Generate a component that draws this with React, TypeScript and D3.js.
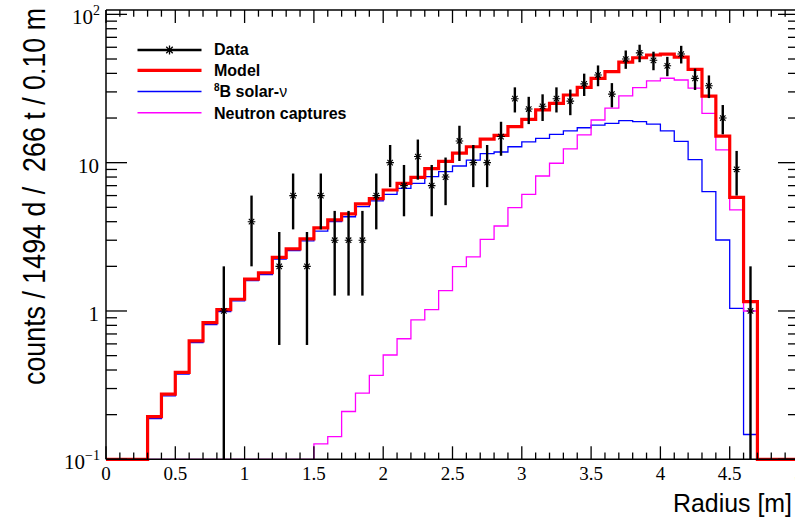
import React from 'react';
import * as d3 from 'd3';

// ---------- data ----------
// 50 bins of 0.1 m from 0 to 5 m (low edges)
const binLowEdges: number[] = d3.range(50).map((i) => Math.round(i) / 10);

const modelCounts: number[] = [
  0, 0, 0, 0.194, 0.275, 0.386, 0.628, 0.834, 1.02, 1.2,
  1.64, 1.81, 2.3, 2.62, 3.06, 3.63, 4.11, 4.51, 5.27, 5.72,
  6.54, 7.26, 7.97, 9.11, 10.2, 11.6, 12.8, 14.4, 15.3, 17.5,
  19.6, 22.7, 25.1, 28.6, 32.2, 37.0, 41.1, 47.6, 51.0, 53.2,
  54.0, 51.5, 42.5, 28.1, 15.1, 5.83, 1.155, 0, 0, 0,
];

const b8Counts: number[] = [
  0, 0, 0, 0.188, 0.268, 0.375, 0.612, 0.81, 0.99, 1.17,
  1.6, 1.76, 2.24, 2.55, 2.97, 3.46, 4.0, 4.32, 5.05, 5.52,
  6.12, 6.72, 7.26, 8.05, 8.69, 9.5, 10.4, 11.5, 11.8, 12.8,
  13.8, 14.6, 15.5, 16.4, 17.2, 17.9, 18.4, 19.2, 18.9, 18.2,
  16.4, 13.9, 10.5, 6.37, 3.01, 1.04, 0.147, 0, 0, 0,
];

const neutronCounts: number[] = [
  0, 0, 0, 0, 0, 0, 0, 0, 0, 0,
  0, 0, 0, 0, 0, 0.127, 0.142, 0.21, 0.279, 0.368,
  0.505, 0.65, 0.87, 1.02, 1.37, 1.99, 2.32, 3.04, 3.74, 4.97,
  6.12, 8.13, 9.91, 12.4, 15.4, 19.4, 23.3, 28.2, 32.1, 35.6,
  37.1, 36.1, 31.8, 21.5, 12.2, 4.8, 1.0, 0, 0, 0,
];

const dataRadius: number[] = [
  0.85, 1.05, 1.25, 1.35, 1.45, 1.55, 1.65, 1.75, 1.85, 1.95,
  2.05, 2.15, 2.25, 2.35, 2.45, 2.55, 2.65, 2.75, 2.85, 2.95,
  3.05, 3.15, 3.25, 3.35, 3.45, 3.55, 3.65, 3.75, 3.85, 3.95,
  4.05, 4.15, 4.25, 4.35, 4.45, 4.55, 4.65,
];
const dataCounts: number[] = [
  1, 4, 2, 6, 2, 6, 3, 3, 3, 6,
  10, 7, 11, 7, 8, 14, 10, 10, 15, 27,
  23, 24, 27, 26, 34, 39, 29, 50, 55, 49,
  45, 54, 37, 33, 20, 9, 1,
];
const dataErrors: number[] = [
  1, 2, 1.41, 2.45, 1.41, 2.45, 1.73, 1.73, 1.73, 2.45,
  3.16, 2.65, 3.32, 2.65, 2.83, 3.74, 3.16, 3.16, 3.87, 5.2,
  4.8, 4.9, 5.2, 5.1, 5.83, 6.24, 5.39, 7.07, 7.42, 7.0,
  6.71, 7.35, 6.08, 5.74, 4.47, 3.0, 1,
];

const xTickLabels: string[] = ['0', '0.5', '1', '1.5', '2', '2.5', '3', '3.5', '4', '4.5', '5'];
const xTickValues: number[] = [0, 0.5, 1, 1.5, 2, 2.5, 3, 3.5, 4, 4.5, 5];
const yTickValues: number[] = [0.1, 1, 10, 100];
const yTickBases: string[] = ['10', '1', '10', '10'];
const yTickExps: string[] = ['\u22121', '', '', '2'];

const legendLabels: string[] = ['Data', 'Model', 'B solar-', 'Neutron captures'];
const yTitle = 'counts / 1494 d /  266 t / 0.10 m';
const xTitle = 'Radius [m]';

// ---------- layout ----------
const W = 795;
const H = 518;
const X0 = 106;
const X1 = 799;
const YTOP = 10;
const YBOT = 459.3;
const Y_MIN = 0.1;
const Y_MAX = 107;

const RED = '#ff0000';
const BLUE = '#0000ff';
const MAGENTA = '#ff00ff';

const xScale = d3.scaleLinear().domain([0, 5]).range([X0, X1]);
const yScale = d3.scaleLog().domain([Y_MIN, Y_MAX]).range([YBOT, YTOP]);
const yc = (v: number) => yScale(Math.max(v, Y_MIN));

const stepLine = d3
  .line<[number, number]>()
  .x((d) => xScale(d[0]))
  .y((d) => yc(d[1]))
  .curve(d3.curveStepAfter);

function histPath(values: number[]): string {
  const pts: [number, number][] = binLowEdges.map((e, i) => [e, values[i]]);
  pts.push([5, values[values.length - 1]]);
  return stepLine(pts) || '';
}

function starPath(cx: number, cy: number, r: number): string {
  const d = r * 0.72;
  return `M${cx - r},${cy}H${cx + r}M${cx},${cy - r}V${cy + r}` +
    `M${cx - d},${cy - d}L${cx + d},${cy + d}M${cx - d},${cy + d}L${cx + d},${cy - d}`;
}

export default function App() {
  const sans = 'Liberation Sans, Arial, Helvetica, sans-serif';
  const serif = 'Liberation Serif, Times New Roman, serif';

  const xMinor = d3.range(0, 51).map((i) => i / 10);
  const yMinor: number[] = [];
  [0.1, 1, 10].forEach((dec) => {
    for (let k = 2; k <= 9; k++) yMinor.push(k * dec);
  });

  const legendRows = [
    { ly: 50, ty: 54.5, color: '#000', w: 2.4 },
    { ly: 70.3, ty: 75.7, color: RED, w: 3.2 },
    { ly: 91.5, ty: 97.3, color: BLUE, w: 1.4 },
    { ly: 112.8, ty: 119, color: MAGENTA, w: 1.4 },
  ];

  return (
    <div style={{ position: 'absolute', left: 0, top: 0 }}>
      <svg width={W} height={H} style={{ display: 'block', background: '#fff' }}>
        <rect x={0} y={0} width={W} height={H} fill="#fff" />

        {/* histograms */}
        <path d={histPath(b8Counts)} fill="none" stroke={BLUE} strokeWidth={1.3} />
        <path d={histPath(neutronCounts)} fill="none" stroke={MAGENTA} strokeWidth={1.3} />
        <path d={histPath(modelCounts)} fill="none" stroke={RED} strokeWidth={3.2} />

        {/* frame */}
        <g stroke="#000" strokeWidth={1.5} fill="none">
          <line x1={X0} x2={X1} y1={YBOT} y2={YBOT} />
          <line x1={X0} x2={X1} y1={YTOP} y2={YTOP} />
          <line x1={X0} x2={X0} y1={YTOP} y2={YBOT} />
          <line x1={X1} x2={X1} y1={YTOP} y2={YBOT} />
        </g>

        {/* x ticks bottom & top */}
        <g stroke="#000" strokeWidth={1.3}>
          {xMinor.map((v, i) => {
            const major = i % 5 === 0;
            const len = major ? 13 : 6.7;
            const x = xScale(v);
            return (
              <g key={'xt' + i}>
                <line x1={x} x2={x} y1={YBOT} y2={YBOT - len} />
                <line x1={x} x2={x} y1={YTOP} y2={YTOP + len} />
              </g>
            );
          })}
          {yTickValues.map((v, i) => (
            <g key={'ytM' + i}>
              <line x1={X0} x2={X0 + 21} y1={yScale(v)} y2={yScale(v)} />
              <line x1={X1} x2={X1 - 21} y1={yScale(v)} y2={yScale(v)} />
            </g>
          ))}
          {yMinor.map((v, i) => (
            <g key={'ytm' + i}>
              <line x1={X0} x2={X0 + 11} y1={yScale(v)} y2={yScale(v)} />
              <line x1={X1} x2={X1 - 11} y1={yScale(v)} y2={yScale(v)} />
            </g>
          ))}
        </g>

        {/* x tick labels */}
        {xTickValues.map((v, i) => (
          <text key={'xl' + i} x={xScale(v)} y={480} textAnchor="middle"
            fontFamily={serif} fontSize={19} fill="#000">
            {xTickLabels[i]}
          </text>
        ))}

        {/* y tick labels */}
        {yTickValues.map((v, i) => (
          <text key={'yl' + i} x={yTickExps[i] ? 100 : 99} y={yScale(v) + 10} textAnchor="end"
            fontFamily={serif} fontSize={21} fill="#000">
            {yTickBases[i]}
            {yTickExps[i] ? (
              <tspan fontSize={14} dy={-9}>{yTickExps[i]}</tspan>
            ) : null}
          </text>
        ))}

        {/* data error bars and markers */}
        <g stroke="#000">
          {dataRadius.map((r, i) => (
            <line key={'eb' + i} x1={xScale(r)} x2={xScale(r)}
              y1={yc(dataCounts[i] - dataErrors[i])} y2={yc(dataCounts[i] + dataErrors[i])}
              strokeWidth={2.4} />
          ))}
          {dataRadius.map((r, i) => (
            <path key={'mk' + i} d={starPath(xScale(r), yScale(dataCounts[i]), 3.8)}
              strokeWidth={1.1} fill="none" />
          ))}
        </g>

        {/* legend */}
        {legendRows.map((row, i) => (
          <g key={'lg' + i}>
            <line x1={137.5} x2={201.5} y1={row.ly} y2={row.ly} stroke={row.color} strokeWidth={row.w} />
            {i === 0 ? (
              <path d={starPath(169.5, row.ly, 4.5)} stroke="#000" strokeWidth={1.3} fill="none" />
            ) : null}
            <text x={214} y={row.ty} fontFamily={sans} fontWeight="bold" fontSize={16} fill="#000">
              {i === 2 ? (
                <>
                  <tspan fontSize={10} dy={-6}>8</tspan>
                  <tspan dy={6}>{legendLabels[i]}</tspan>
                  <tspan fontWeight="normal">{'\u03BD'}</tspan>
                </>
              ) : (
                legendLabels[i]
              )}
            </text>
          </g>
        ))}

        {/* axis titles */}
        <text transform={`translate(45,385) rotate(-90)`} textAnchor="start"
          fontFamily={sans} fontSize={31} fill="#000" textLength={377}
          lengthAdjust="spacingAndGlyphs" style={{ whiteSpace: 'pre' }}>
          {yTitle}
        </text>
        <text x={673} y={512} fontFamily={sans} fontSize={26} fill="#000"
          textLength={119} lengthAdjust="spacingAndGlyphs">
          {xTitle}
        </text>
      </svg>
    </div>
  );
}
